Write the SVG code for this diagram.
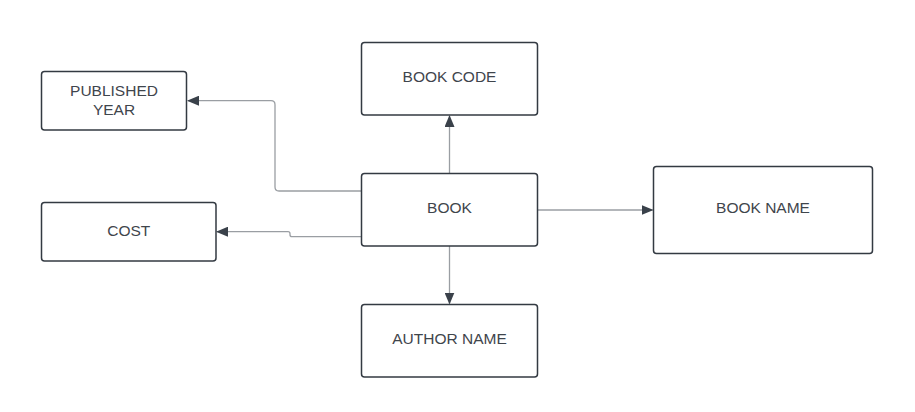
<svg xmlns="http://www.w3.org/2000/svg" width="915" height="412" viewBox="0 0 915 412">
<style>
.box{fill:#fff;stroke:#333a42;stroke-width:1.5}
.lbl{font-family:"Liberation Sans",Arial,sans-serif;font-size:15.5px;fill:#3f454c;text-anchor:middle}
.conn{fill:none;stroke:#9a9ea3;stroke-width:1.3}
</style>
<defs>
<marker id="arr" viewBox="0 0 12 10" refX="11" refY="5" markerWidth="12" markerHeight="10" markerUnits="userSpaceOnUse" orient="auto">
<path d="M0,0 L12,5 L0,10 Z" fill="#3a414a"/>
</marker>
</defs>
<rect width="915" height="412" fill="#fff"/>
<g id="connectors">
<path class="conn" d="M449.5,173.5 V116" marker-end="url(#arr)"/>
<path class="conn" d="M449.5,246 V303.5" marker-end="url(#arr)"/>
<path class="conn" d="M537.5,210 H652.5" marker-end="url(#arr)"/>
<path class="conn" d="M361.5,191 H279 Q275,191 275,187 V104.7 Q275,100.7 271,100.7 H188" marker-end="url(#arr)"/>
<path class="conn" d="M361.5,236.7 H292 Q290,236.7 290,234.7 V233.7 Q290,231.7 288,231.7 H217" marker-end="url(#arr)"/>
</g>
<g id="published-year">
<rect class="box" x="41.5" y="71.5" width="145" height="58.5" rx="3"/>
<text class="lbl" x="114" y="95.5">PUBLISHED</text>
<text class="lbl" x="114" y="114.5">YEAR</text>
</g>
<g id="cost">
<rect class="box" x="41.5" y="202.5" width="174.5" height="58.5" rx="3"/>
<text class="lbl" x="128.75" y="235.5">COST</text>
</g>
<g id="book-code">
<rect class="box" x="361.5" y="42.5" width="176" height="72.5" rx="3"/>
<text class="lbl" x="449.5" y="82.3">BOOK CODE</text>
</g>
<g id="book">
<rect class="box" x="361.5" y="173.5" width="176" height="72.5" rx="3"/>
<text class="lbl" x="449.5" y="213">BOOK</text>
</g>
<g id="author-name">
<rect class="box" x="361.5" y="304.5" width="176" height="72.5" rx="3"/>
<text class="lbl" x="449.5" y="344">AUTHOR NAME</text>
</g>
<g id="book-name">
<rect class="box" x="653.5" y="166.5" width="219" height="87" rx="3"/>
<text class="lbl" x="763" y="213">BOOK NAME</text>
</g>
</svg>
